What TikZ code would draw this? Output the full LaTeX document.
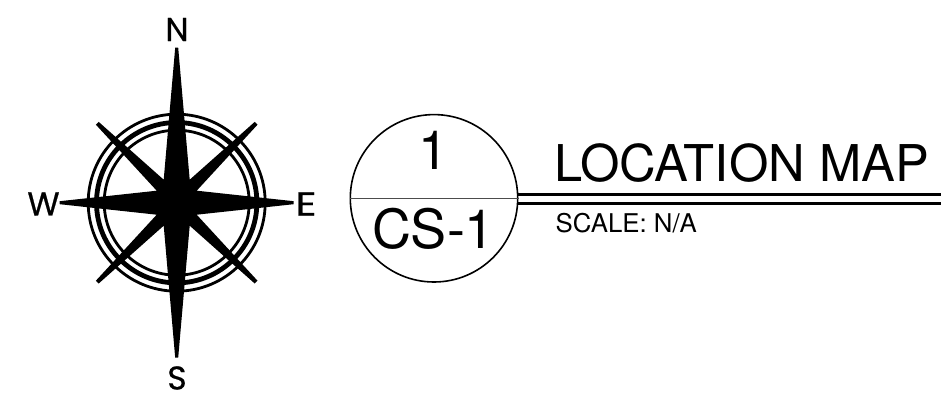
\documentclass[tikz,border=0pt]{standalone}
\usepackage{fontspec}
\setmainfont{TeX Gyre Heros}
\newfontfamily\compassfont[FakeBold=0.6]{Poppins}
\tikzset{
  px/.style={x=1pt,y=-1pt},
  ringthin/.style={draw=black,line width=2.8pt},
  ringthick/.style={draw=black,line width=4.8pt},
  cardinal/.style={inner sep=0pt,font=\compassfont\fontsize{33}{33}\selectfont},
  bubbletext/.style={inner sep=0pt,anchor=base,font=\fontsize{54}{54}\selectfont},
  titletext/.style={inner sep=0pt,anchor=base west,font=\fontsize{50.7}{50.7}\selectfont},
  scaletext/.style={inner sep=0pt,anchor=base west,font=\fontsize{25.8}{25.8}\selectfont},
  bubble/.style={circle,draw=black,line width=1.6pt,minimum size=167.4pt,inner sep=0pt},
  divider/.style={draw=black!70,line width=1.2pt},
  titlerule/.style={draw=black,line width=2.8pt},
}
\begin{document}
\begin{tikzpicture}[px]
\useasboundingbox[fill=white] (0,0) rectangle (941,393);
% compass rings
\begin{scope}[shift={(176.7,202.7)}]
  \draw[ringthin] (0,0) circle[radius=88.5];
  \draw[ringthick] (0,0) circle[radius=80.2];
  \draw[ringthin] (0,0) circle[radius=72.5];
  % eight point star
  \fill[black]
    (-1.5,-155) -- (1.5,-155) -- (13,-23)
    -- (78,-80.8) -- (80.8,-78) -- (20,-12)
    -- (117,-1.5) -- (117,1.5) -- (20,12)
    -- (80.8,78) -- (78,80.8) -- (13,23)
    -- (1.5,155) -- (-1.5,155) -- (-13,23)
    -- (-78,80.8) -- (-80.8,78) -- (-20,12)
    -- (-117,1.5) -- (-117,-1.5) -- (-20,-12)
    -- (-80.8,-78) -- (-78,-80.8) -- (-13,-23) -- cycle;
\end{scope}
\node[cardinal] (n) at (177,29.5) {N};
\node[cardinal] (s) at (177,378) {S};
\node[cardinal] (w) at (43.5,204) {W};
\node[cardinal,xscale=1.25] (e) at (306,204) {E};
% detail bubble
\node[bubble] (bub) at (434,198.3) {};
\draw[divider] (bub.west) -- (bub.east);
\node[bubbletext] (num) at (433.5,169.5) {1};
\node[bubbletext] (sheet) at (433.5,248.5) {CS-1};
% title
\coordinate (r1a) at (517,194.3);
\coordinate (r1b) at (941,194.3);
\coordinate (r2a) at (517,203.3);
\coordinate (r2b) at (941,203.3);
\draw[titlerule] (r1a) -- (r1b);
\draw[titlerule] (r2a) -- (r2b);
\node[titletext] (title) at (554,181.5) {LOCATION MAP};
\node[scaletext] (scale) at (555.5,232) {SCALE: N/A};
\end{tikzpicture}
\end{document}
